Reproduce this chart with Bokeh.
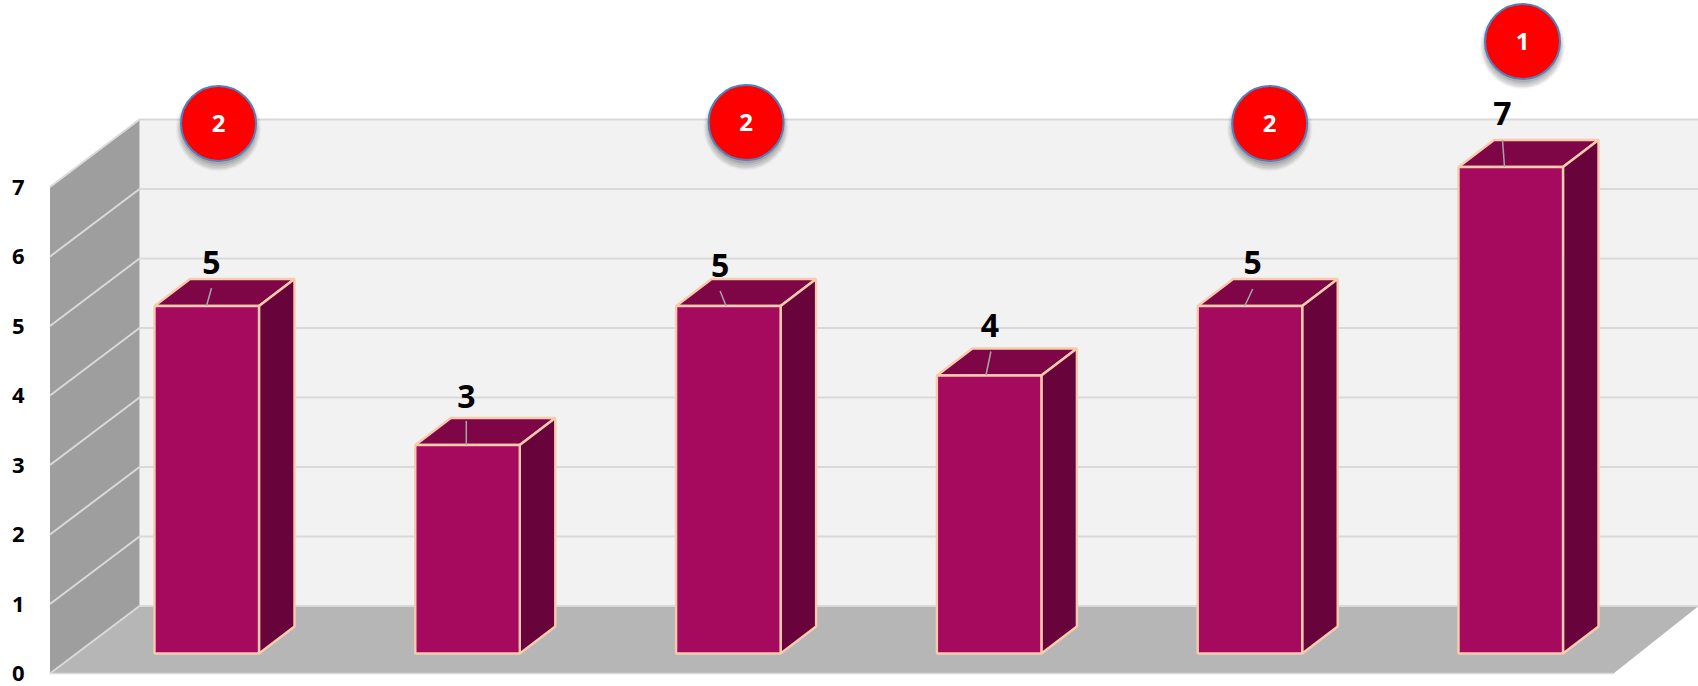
from bokeh.plotting import figure
from bokeh.models import Range1d, FixedTicker
from bokeh.core.properties import value
from bokeh.embed import file_html
from bokeh.resources import INLINE

# ---- chart data ----
bar_values = [5, 3, 5, 4, 5, 7]
y_ticks = [0, 1, 2, 3, 4, 5, 6, 7]
badge_values = ["2", "2", "2", "1"]
badge_slots = [0, 2, 4, 5]

# ---- geometry (screen pixels) ----
W, H = 1698, 686
UNIT = 69.5          # pixels per value unit
FRONT0 = 673.0       # pixel row of value 0 on the front edge of the chart
BACK0 = 605.5        # pixel row of value 0 on the back wall
WALL_L, WALL_R = 49.5, 139.0
FLOOR_R_FRONT, FLOOR_R_BACK = 1613.0, 1698.0
BAR_X0, BAR_STEP, BAR_W = 154.0, 260.8, 104.5
BAR_BASE = 653.0
DX, DY = 35.5, 27.0
FONT = "Open Sans"


def vy(pixel_row):
    """Pixel row -> value axis coordinate."""
    return (FRONT0 - pixel_row) / UNIT


p = figure(width=W, height=H, output_backend="svg", toolbar_location=None,
           x_range=Range1d(48, W), y_range=Range1d(vy(H), vy(0)),
           min_border_left=48, min_border_right=0, min_border_top=0, min_border_bottom=0)
p.outline_line_color = None
p.background_fill_color = "#ffffff"
p.border_fill_color = "#ffffff"
p.grid.visible = False
p.xaxis.visible = False

ax = p.yaxis[0]
ax.ticker = FixedTicker(ticks=y_ticks)
ax.axis_line_color = None
ax.major_tick_line_color = None
ax.minor_tick_line_color = None
ax.major_label_standoff = 18
ax.major_label_text_font = FONT
ax.major_label_text_font_style = "bold"
ax.major_label_text_font_size = "22px"
ax.major_label_text_color = "#000000"

GRID = "#d9d9d9"
top_v = max(y_ticks)

# back wall
p.patch([WALL_R, W, W, WALL_R],
        [vy(BACK0), vy(BACK0), vy(BACK0 - UNIT * top_v), vy(BACK0 - UNIT * top_v)],
        fill_color="#f2f2f2", line_color=None)
# side wall
p.patch([WALL_L, WALL_R, WALL_R, WALL_L],
        [vy(FRONT0), vy(BACK0), vy(BACK0 - UNIT * top_v), vy(FRONT0 - UNIT * top_v)],
        fill_color="#9e9e9e", line_color=None)
# floor
p.patch([WALL_L, WALL_R, FLOOR_R_BACK, FLOOR_R_FRONT],
        [vy(FRONT0), vy(BACK0), vy(BACK0), vy(FRONT0)],
        fill_color="#b6b6b6", line_color=None)
# grid lines: back wall + side wall
for t in y_ticks:
    back = vy(BACK0 - UNIT * t)
    front = vy(FRONT0 - UNIT * t)
    p.line([WALL_L, WALL_R, W], [front, back, back], line_color=GRID, line_width=2)
p.line([WALL_L, FLOOR_R_FRONT], [vy(FRONT0), vy(FRONT0)], line_color=GRID, line_width=1.5)

# 3-D bars
EDGE = "#f8cbad"
for i, v in enumerate(bar_values):
    x0 = BAR_X0 + BAR_STEP * i
    x1 = x0 + BAR_W
    b = vy(BAR_BASE)
    t = b + v
    dy = DY / UNIT
    p.patch([x0, x0 + DX, x1 + DX, x1], [t, t + dy, t + dy, t],
            fill_color="#7e0647", line_color=EDGE, line_width=2.4)
    p.patch([x1, x1 + DX, x1 + DX, x1], [b, b + dy, t + dy, t],
            fill_color="#69033c", line_color=EDGE, line_width=2.4)
    p.patch([x0, x1, x1, x0], [b, b, t, t],
            fill_color="#a50a5e", line_color=EDGE, line_width=2.4)

# data label offsets and leader lines (pixel offsets from front top-left corner)
label_dx = [57, 51, 44, 53, 55, 44]
label_dy = [-44, -49, -41, -50, -44, -54]
lead_x0 = [52, 51, 50, 49, 47, 46]
lead_x1 = [57, 51, 44, 54, 55, 44]
lead_dy = [-18, -24, -15, -24, -17, -27]
for i, v in enumerate(bar_values):
    x0 = BAR_X0 + BAR_STEP * i
    t = vy(BAR_BASE) + v
    p.segment(x0 + lead_x0[i], t, x0 + lead_x1[i], t - lead_dy[i] / UNIT,
              line_color="#a6a6a6", line_width=1.5)
    p.text([x0 + label_dx[i]], [t - label_dy[i] / UNIT], text=[str(v)],
           text_font=value(FONT), text_font_style="bold", text_font_size="32px",
           text_color="#000000", text_align="center", text_baseline="middle")

# red badges
badge_x_off = [64, 70, 72, 64]
badge_rows = [123, 122, 123, 41]
for s, lab, off, row in zip(badge_slots, badge_values, badge_x_off, badge_rows):
    cx = BAR_X0 + BAR_STEP * s + off
    for drop, size, alpha in [(5, 86, 0.025), (5, 84, 0.035), (5, 82, 0.05),
                              (5, 80, 0.06), (4, 78, 0.08), (3, 76, 0.10)]:
        p.scatter([cx], [vy(row + drop)], size=size, marker="circle",
                  fill_color="#000000", fill_alpha=alpha, line_color=None)
    p.scatter([cx], [vy(row)], size=75, marker="circle", fill_color="#ff0000",
              line_color="#4f81bd", line_width=2)
    p.text([cx], [vy(row)], text=[lab], text_font=value(FONT), text_font_style="bold",
           text_font_size="24px", text_color="#ffffff", text_align="center",
           text_baseline="middle")

open("out.html", "w").write(file_html(p, INLINE))
